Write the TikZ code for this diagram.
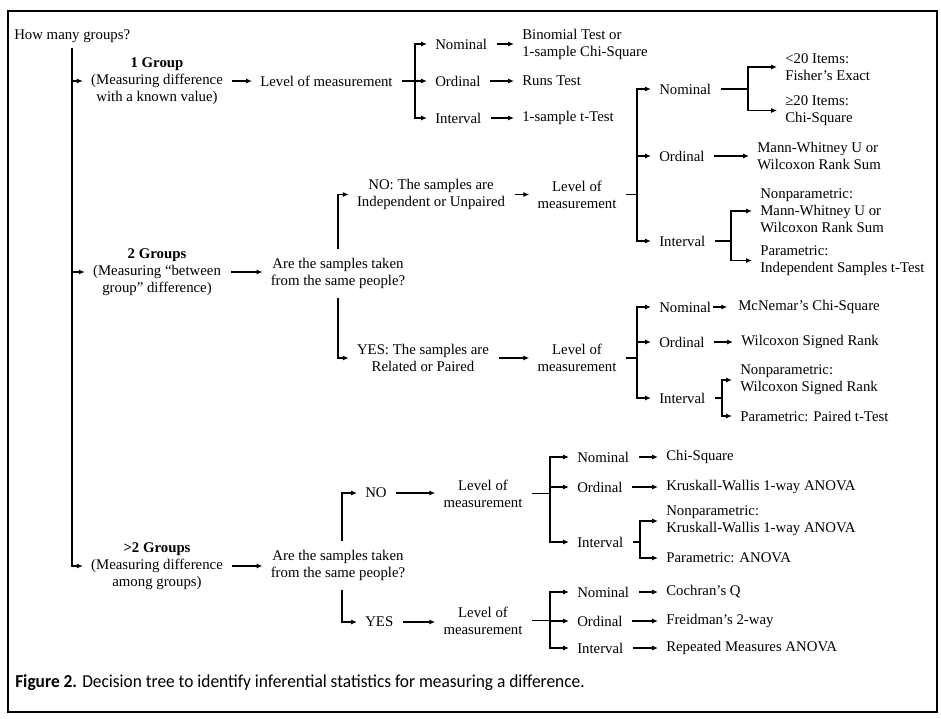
\documentclass[tikz,border=0pt]{standalone}
\usepackage{fontspec}
\setmainfont{Liberation Serif}
\newfontfamily\capfont[FakeStretch=0.95]{Carlito}
\usetikzlibrary{arrows.meta}

\begin{document}
\begin{tikzpicture}[x=0.75pt,y=-0.75pt,>={Latex[length=4.5pt,width=3.8pt]},
  font=\fontsize{11.1}{12.8}\selectfont,
  every node/.style={inner sep=0pt},
  txt/.style={anchor=west,align=left},
  mid/.style={align=center},
  link/.style={line width=0.9pt},
  lead/.style={link,shorten <=7pt},
  go/.style={link,->,shorten <=7pt,shorten >=6pt},
  fork/.style={link,->,shorten >=6pt}]
% ================= frame and root =================
  \useasboundingbox (0,0) rectangle (941,718);
  \draw[line width=1.8pt] (8,11) rectangle (937,712);
  \node[txt] (root) at (14,36) {How many groups?};
  \coordinate (trunk) at (72,48);
% ================= 1 group =================
  \node[mid] (g1) at (157,81) {\textbf{1 Group}\\(Measuring difference\\with a known value)};
  \node[txt] (m1) at (260,81) {Level of measurement};
  \coordinate (b1) at (415,81);
  \node[txt] (n1) at (435,44) {Nominal};
  \node[txt] (o1) at (435,81) {Ordinal};
  \node[txt] (i1) at (435,118) {Interval};
  \node[txt] (t1n) at (522,44.5) {Binomial Test or\\1-sample Chi-Square};
  \node[txt] (t1o) at (522,81) {Runs Test};
  \node[txt] (t1i) at (522,118) {1-sample t-Test};
  \draw[fork] (trunk |- g1) -- (g1.west);
  \draw[go] (g1.east) -- (m1.west);
  \draw[lead] (m1.east) -- (b1);
  \foreach \k in {n1,o1,i1} \draw[fork] (b1) |- (\k.west);
  \foreach \a/\b in {n1/t1n,o1/t1o,i1/t1i} \draw[go] (\a.east) -- (\a.east -| \b.west);
% ================= 2 groups =================
  \node[mid] (g2) at (157,272) {\textbf{2 Groups}\\(Measuring “between\\group” difference)};
  \node[mid] (q2) at (338,273.5) {Are the samples taken\\from the same people?};
  \node[mid] (no2) at (431,194.5) {NO: The samples are\\Independent or Unpaired};
  \node[mid] (m2a) at (577,194.5) {Level of\\measurement};
  \coordinate (b2a) at (637,194.5);
  \node[txt] (n2a) at (659,89) {Nominal};
  \node[txt] (o2a) at (659,156) {Ordinal};
  \node[txt] (i2a) at (659,241) {Interval};
  \coordinate (b2n) at (748,89);
  \node[txt] (lt20) at (785,67) {<20 Items:\\Fisher’s Exact};
  \node[txt] (ge20) at (785,110.5) {≥20 Items:\\Chi-Square};
  \node[txt] (mw2) at (757,156) {Mann-Whitney U or\\Wilcoxon Rank Sum};
  \coordinate (b2i) at (731,241);
  \node[txt] (np2a) at (760,211) {Nonparametric:\\Mann-Whitney U or\\Wilcoxon Rank Sum};
  \node[txt] (pa2a) at (760,260.5) {Parametric:\\Independent Samples t-Test};
  \draw[fork] (trunk |- g2) -- (g2.west);
  \draw[go] (g2.east) -- (g2.east -| q2.west);
  \draw[go] (q2.north) |- (no2.west);
  \draw[go] (no2.east) -- (m2a.west);
  \draw[lead] (m2a.east) -- (b2a);
  \foreach \k in {n2a,o2a,i2a} \draw[fork] (b2a) |- (\k.west);
  \draw[lead] (n2a.east) -- (b2n);
  \draw[fork] (b2n) |- (lt20.west);
  \draw[fork] (b2n) |- (ge20.west);
  \draw[go] (o2a.east) -- (mw2.west);
  \draw[lead] (i2a.east) -- (b2i);
  \draw[fork] (b2i) |- (np2a.west);
  \draw[fork] (b2i) |- (pa2a.west);
  % paired samples
  \node[mid] (yes2) at (423,358) {YES: The samples are\\Related or Paired};
  \node[mid] (m2b) at (577,358) {Level of\\measurement};
  \coordinate (b2b) at (637,358);
  \node[txt] (n2b) at (659,307) {Nominal};
  \node[txt] (o2b) at (659,342) {Ordinal};
  \node[txt] (i2b) at (659,398) {Interval};
  \node[txt] (mcn) at (738,307) {McNemar’s Chi-Square};
  \node[txt] (wsr) at (741,342) {Wilcoxon Signed Rank};
  \coordinate (b2c) at (722,398);
  \node[txt] (np2b) at (740,380) {Nonparametric:\\Wilcoxon Signed Rank};
  \node[txt] (pa2b) at (740,416) {Parametric: Paired t-Test};
  \draw[go] (q2.south) |- (yes2.west);
  \draw[go] (yes2.east) -- (m2b.west);
  \draw[lead] (m2b.east) -- (b2b);
  \foreach \k in {n2b,o2b,i2b} \draw[fork] (b2b) |- (\k.west);
  \draw[go,shorten <=1.5pt,shorten >=8pt] (n2b.east) -- (mcn.west);
  \draw[go] (o2b.east) -- (wsr.west);
  \draw[lead] (i2b.east) -- (b2c);
  \draw[fork] (b2c) |- (np2b.west);
  \draw[fork] (b2c) |- (pa2b.west);
% ================= more than 2 groups =================
  \node[mid] (g3) at (157,566) {\textbf{>2 Groups}\\(Measuring difference\\among groups)};
  \node[mid] (q3) at (338,565.5) {Are the samples taken\\from the same people?};
  \node[txt] (no3) at (365,493) {NO};
  \node[mid] (m3a) at (483,493.5) {Level of\\measurement};
  \coordinate (b3a) at (550,493.5);
  \node[txt] (n3a) at (577,457) {Nominal};
  \node[txt] (o3a) at (577,487) {Ordinal};
  \node[txt] (i3a) at (577,542) {Interval};
  \node[txt] (chi3) at (666,457) {Chi-Square};
  \node[txt] (kw3) at (666,487) {Kruskall-Wallis 1-way ANOVA};
  \coordinate (b3i) at (640,542);
  \node[txt] (np3) at (666,521) {Nonparametric:\\Kruskall-Wallis 1-way ANOVA};
  \node[txt] (pa3) at (666,558) {Parametric: ANOVA};
  \draw[fork] (trunk) |- (g3.west);
  \draw[go] (g3.east) -- (g3.east -| q3.west);
  \draw[go] ([xshift=3pt]q3.north) |- (no3.west);
  \draw[go] (no3.east) -- (no3.east -| m3a.west);
  \draw[lead] (m3a.east) -- (b3a);
  \foreach \k in {n3a,o3a,i3a} \draw[fork] (b3a) |- (\k.west);
  \draw[go] (n3a.east) -- (chi3.west);
  \draw[go] (o3a.east) -- (kw3.west);
  \draw[lead] (i3a.east) -- (b3i);
  \draw[fork] (b3i) |- (np3.west);
  \draw[fork] (b3i) |- (pa3.west);
  % repeated measures
  \node[txt] (yes3) at (365,622) {YES};
  \node[mid] (m3b) at (483,620.5) {Level of\\measurement};
  \coordinate (b3b) at (550,620.5);
  \node[txt] (n3b) at (577,592) {Nominal};
  \node[txt] (o3b) at (577,621) {Ordinal};
  \node[txt] (i3b) at (577,648) {Interval};
  \node[txt] (coq) at (666,592) {Cochran’s Q};
  \node[txt] (fri) at (666,621) {Freidman’s 2-way};
  \node[txt] (rma) at (666,648) {Repeated Measures ANOVA};
  \draw[go] ([xshift=3pt]q3.south) |- (yes3.west);
  \draw[go] (yes3.east) -- (yes3.east -| m3b.west);
  \draw[lead] (m3b.east) -- (b3b);
  \foreach \k in {n3b,o3b,i3b} \draw[fork] (b3b) |- (\k.west);
  \foreach \a/\b in {n3b/coq,o3b/fri,i3b/rma} \draw[go] (\a.east) -- (\b.west);
% ================= caption =================
  \node[txt,font=\capfont\fontsize{13.7}{15}\selectfont] (cap) at (15,683)
    {\textbf{Figure 2.} Decision tree to identify inferential statistics for measuring a difference.};
\end{tikzpicture}
\end{document}
